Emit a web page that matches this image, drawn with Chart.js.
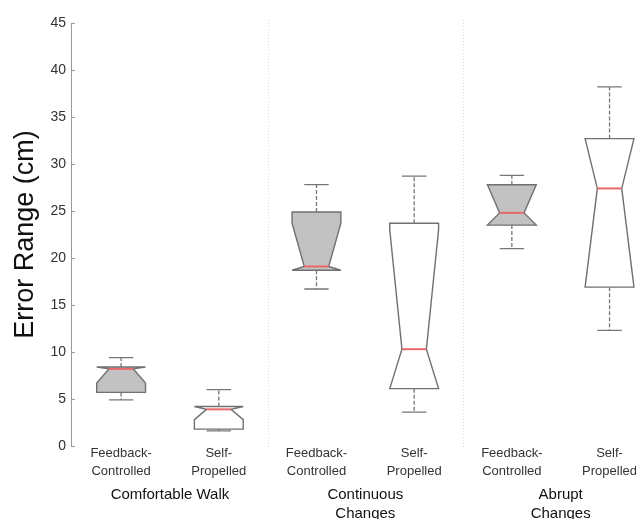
<!DOCTYPE html>
<html>
<head>
<meta charset="utf-8">
<script src="https://cdn.jsdelivr.net/npm/chart.js@4.4.1/dist/chart.umd.min.js"></script>
<style>
html, body { margin: 0; padding: 0; background: #fff; overflow: hidden; }
#wrap { width: 636px; height: 519px; position: relative; }
</style>
</head>
<body>
<div id="wrap"><canvas id="errChart"></canvas></div>
<script>
// conditions, one box each
var categories = [
    ['Feedback-', 'Controlled'], ['Self-', 'Propelled'],
    ['Feedback-', 'Controlled'], ['Self-', 'Propelled'],
    ['Feedback-', 'Controlled'], ['Self-', 'Propelled']
];
var positions = [1, 2, 3, 4, 5, 6];
var groups = [['Comfortable Walk'], ['Continuous', 'Changes'], ['Abrupt', 'Changes']];
var groupPositions = [1.5, 3.5, 5.5];
var dividers = [2.5, 4.5];

// box stats (cm)
var whiskerLow  = [4.9, 1.6, 16.7, 3.6, 21.0, 12.3];
var q1          = [5.7, 1.8, 18.7, 6.1, 23.5, 16.9];
var median      = [8.2, 3.9, 19.1, 10.3, 24.8, 27.4];
var q3          = [8.4, 4.2, 24.9, 23.7, 27.8, 32.7];
var whiskerHigh = [9.4, 6.0, 27.8, 28.7, 28.8, 38.2];
var notchLow    = [6.7, 2.8, 14.5, -2.4, 21.7, 16.8];
var notchHigh   = [9.7, 5.0, 23.7, 23.0, 27.9, 38.0];

var yTicks = [0, 5, 10, 15, 20, 25, 30, 35, 40, 45];

var FONT = "'Liberation Sans', Arial, sans-serif";

var boxPlugin = {
    id: 'boxes',
    afterDatasetsDraw: function(chart) {
        var ctx = chart.ctx;
        var xs = chart.scales.x;
        var ys = chart.scales.y;
        var area = chart.chartArea;
        ctx.save();

        // group dividers
        ctx.strokeStyle = '#d8d8d8';
        ctx.lineWidth = 1;
        ctx.setLineDash([1, 2]);
        dividers.forEach(function(d) {
            var px = Math.round(xs.getPixelForValue(d)) + 0.5;
            ctx.beginPath();
            ctx.moveTo(px, area.top - 3);
            ctx.lineTo(px, area.bottom + 2);
            ctx.stroke();
        });
        ctx.setLineDash([]);

        // inward ticks on y axis
        ctx.strokeStyle = '#999';
        yTicks.forEach(function(t) {
            var py = Math.round(ys.getPixelForValue(t)) + 0.5;
            ctx.beginPath();
            ctx.moveTo(area.left, py);
            ctx.lineTo(area.left + 4, py);
            ctx.stroke();
        });

        ctx.miterLimit = 4;
        positions.forEach(function(p, i) {
            var cx = xs.getPixelForValue(p);
            var bw = xs.getPixelForValue(p + 0.25) - cx;
            var nw = bw / 2;
            var yq1 = ys.getPixelForValue(q1[i]);
            var yq3 = ys.getPixelForValue(q3[i]);
            var ymed = ys.getPixelForValue(median[i]);
            var ylo = ys.getPixelForValue(Math.max(notchLow[i], q1[i]));
            var yhi = ys.getPixelForValue(Math.min(notchHigh[i], q3[i]));
            var ywl = ys.getPixelForValue(whiskerLow[i]);
            var ywh = ys.getPixelForValue(whiskerHigh[i]);

            // whiskers
            ctx.strokeStyle = '#777';
            ctx.lineWidth = 1.3;
            ctx.setLineDash([4, 2]);
            ctx.beginPath();
            ctx.moveTo(cx, yq3); ctx.lineTo(cx, ywh);
            ctx.moveTo(cx, yq1); ctx.lineTo(cx, ywl);
            ctx.stroke();
            ctx.setLineDash([]);
            ctx.beginPath();
            ctx.moveTo(cx - nw, ywh); ctx.lineTo(cx + nw, ywh);
            ctx.moveTo(cx - nw, ywl); ctx.lineTo(cx + nw, ywl);
            ctx.stroke();

            // notched box
            ctx.beginPath();
            ctx.moveTo(cx - bw, yq1);
            ctx.lineTo(cx - bw, ylo);
            ctx.lineTo(cx - nw, ymed);
            ctx.lineTo(cx - bw, yhi);
            ctx.lineTo(cx - bw, yq3);
            ctx.lineTo(cx + bw, yq3);
            ctx.lineTo(cx + bw, yhi);
            ctx.lineTo(cx + nw, ymed);
            ctx.lineTo(cx + bw, ylo);
            ctx.lineTo(cx + bw, yq1);
            ctx.closePath();
            ctx.fillStyle = i % 2 === 0 ? '#c2c2c2' : '#ffffff';
            ctx.fill();
            ctx.strokeStyle = '#707070';
            ctx.lineWidth = 1.4;
            ctx.stroke();

            // median
            ctx.strokeStyle = '#e8696b';
            ctx.lineWidth = 2;
            ctx.beginPath();
            ctx.moveTo(cx - nw, ymed);
            ctx.lineTo(cx + nw, ymed);
            ctx.stroke();
        });
        ctx.restore();
    }
};

var elErr = document.getElementById('errChart').getContext('2d');
var errChart = new Chart(elErr, {
    type: 'scatter',
    data: {
        datasets: [{
            label: 'Median',
            data: positions.map(function(p, i) { return { x: p, y: median[i] }; }),
            pointRadius: 0,
            showLine: false
        }]
    },
    options: {
        responsive: true,
        maintainAspectRatio: false,
        animation: false,
        layout: { padding: { top: 23, right: 0, left: 0, bottom: 0 } },
        plugins: {
            legend: { display: false },
            tooltip: { enabled: false }
        },
        scales: {
            x: {
                type: 'linear',
                position: 'bottom',
                min: 0.487,
                max: 6.27,
                grid: { display: false, drawTicks: false },
                border: { display: false },
                afterBuildTicks: function(s) {
                    s.ticks = positions.map(function(v) { return { value: v }; });
                },
                afterFit: function(s) { s.height = 39; },
                ticks: {
                    autoSkip: false,
                    maxRotation: 0,
                    padding: -1,
                    color: '#333',
                    font: { family: FONT, size: 13, lineHeight: 1.35 },
                    callback: function(v, idx) { return categories[idx]; }
                }
            },
            x2: {
                type: 'linear',
                position: 'bottom',
                min: 0.487,
                max: 6.27,
                grid: { display: false, drawTicks: false },
                border: { display: false },
                afterBuildTicks: function(s) {
                    s.ticks = groupPositions.map(function(v) { return { value: v }; });
                },
                afterFit: function(s) { s.height = 34; },
                ticks: {
                    autoSkip: false,
                    maxRotation: 0,
                    padding: 0,
                    color: '#111',
                    font: { family: FONT, size: 15, lineHeight: 1.3 },
                    callback: function(v, idx) { return groups[idx]; }
                }
            },
            y: {
                min: 0,
                max: 45,
                afterBuildTicks: function(s) {
                    s.ticks = yTicks.map(function(v) { return { value: v }; });
                },
                afterFit: function(s) { s.width = 71; },
                grid: { display: false, drawTicks: false },
                border: { display: true, color: '#999', width: 1 },
                ticks: {
                    padding: 5,
                    color: '#333',
                    font: { family: FONT, size: 14 }
                },
                title: {
                    display: true,
                    text: 'Error Range (cm)',
                    color: '#111',
                    padding: { top: 9, bottom: 0 },
                    font: { family: FONT, size: 27 }
                }
            }
        }
    },
    plugins: [boxPlugin]
});
</script>
</body>
</html>
